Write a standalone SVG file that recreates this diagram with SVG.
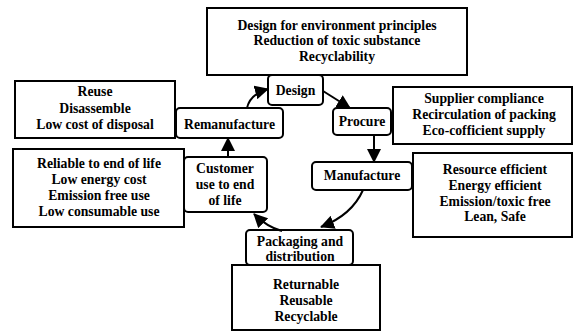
<svg xmlns="http://www.w3.org/2000/svg" width="574" height="332" viewBox="0 0 574 332" font-family="Liberation Serif, DejaVu Serif, serif">
<style>
text{font-weight:bold;font-size:13.7px;fill:#000;text-anchor:middle}
.box{fill:#fff;stroke:#000;stroke-width:2}
.node{fill:#fff;stroke:#000;stroke-width:2}
.conn{fill:none;stroke:#000;stroke-width:2;marker-end:url(#arr)}
</style>
<defs>
<marker id="arr" markerUnits="userSpaceOnUse" markerWidth="16" markerHeight="14" refX="13" refY="7" orient="auto">
<path d="M0,0 L14,7 L0,14 Z" fill="#000"/>
</marker>
</defs>
<rect width="574" height="332" fill="#fff"/>
<g id="principles"><rect class="box" x="207" y="8" width="260" height="67"/>
<text x="337" y="30" font-family="Liberation Serif">Design for environment principles</text>
<text x="337" y="45">Reduction of toxic substance</text>
<text x="337" y="61">Recyclability</text></g>
<g id="reuse"><rect class="box" x="15" y="81" width="160" height="57"/>
<text x="95" y="96">Reuse</text>
<text x="95" y="113">Disassemble</text>
<text x="95" y="129">Low cost of disposal</text></g>
<g id="reliable"><rect class="box" x="13" y="149" width="171" height="78"/>
<text x="99" y="168">Reliable to end of life</text>
<text x="99" y="184">Low energy cost</text>
<text x="99" y="200">Emission free use</text>
<text x="99" y="216">Low consumable use</text></g>
<g id="supplier"><rect class="box" x="393" y="87" width="179" height="57"/>
<text x="484" y="103">Supplier compliance</text>
<text x="484" y="119">Recirculation of packing</text>
<text x="484" y="135">Eco-cofficient supply</text></g>
<g id="resource"><rect class="box" x="413" y="153" width="159" height="84"/>
<text x="495" y="174">Resource efficient</text>
<text x="495" y="190">Energy efficient</text>
<text x="495" y="206">Emission/toxic free</text>
<text x="495" y="221">Lean, Safe</text></g>
<g id="returnable"><rect class="box" x="232" y="265" width="148" height="65"/>
<text x="306" y="289">Returnable</text>
<text x="306" y="305">Reusable</text>
<text x="306" y="321">Recyclable</text></g>
<g id="design"><rect class="node" x="268" y="75" width="55" height="30" rx="4"/>
<text x="295.5" y="95">Design</text></g>
<g id="remanufacture"><rect class="node" x="176" y="108" width="107" height="30" rx="4"/>
<text x="229.5" y="129">Remanufacture</text></g>
<g id="procure"><rect class="node" x="333" y="108" width="58" height="27" rx="4"/>
<text x="362" y="126">Procure</text></g>
<g id="manufacture"><rect class="node" x="312" y="162" width="100" height="28" rx="4"/>
<text x="362" y="180">Manufacture</text></g>
<g id="customer"><rect class="node" x="184" y="157" width="83" height="55" rx="4"/>
<text x="225" y="173">Customer</text>
<text x="225" y="189">use to end</text>
<text x="225" y="205">of life</text></g>
<g id="packaging"><rect class="node" x="246" y="230" width="107" height="35" rx="4"/>
<text x="300" y="246">Packaging and</text>
<text x="300" y="261">distribution</text></g>
<g id="connectors">
<path class="conn" d="M247,108 Q250,94 268,89"/>
<path class="conn" d="M323,91 L350,108"/>
<path class="conn" d="M374,135 L374,162"/>
<path class="conn" d="M363,190 Q352,215 321,227"/>
<path class="conn" d="M282,231 Q267,227 254,214"/>
<path class="conn" d="M228,157 L228,138"/>
</g>
</svg>
